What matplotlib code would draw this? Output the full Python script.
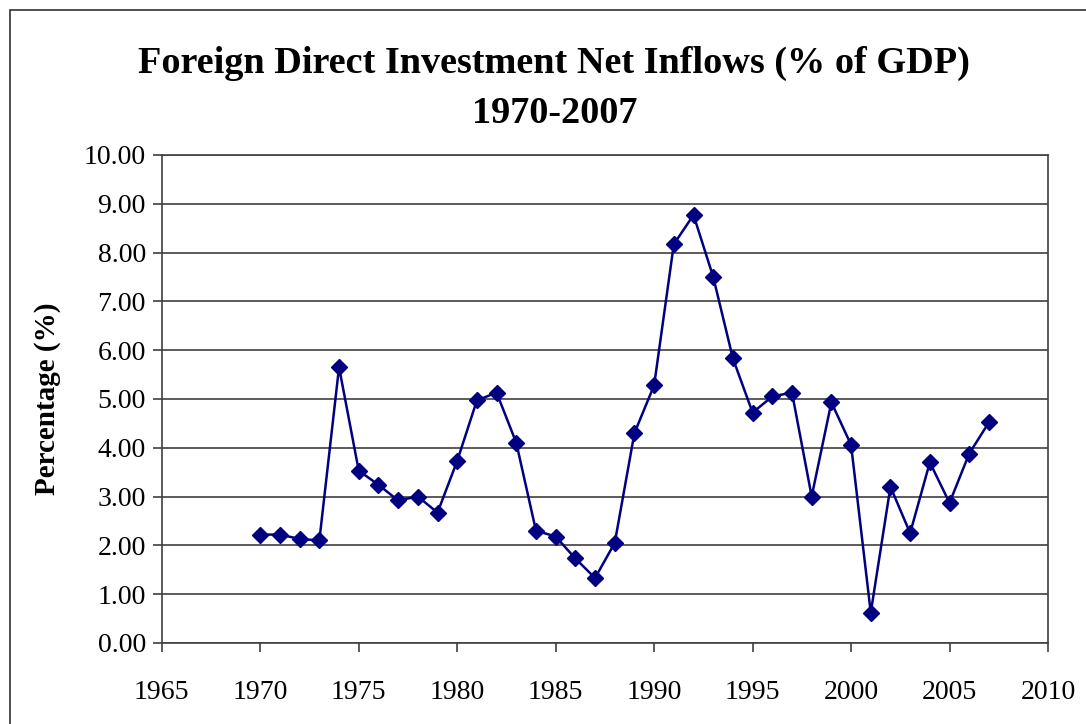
import matplotlib.pyplot as plt
from matplotlib.patches import Rectangle

years = list(range(1970, 2008))
fdi_pct = [2.22, 2.22, 2.13, 2.10, 5.65, 3.53, 3.24, 2.92, 3.00, 2.67,
           3.73, 4.97, 5.13, 4.10, 2.30, 2.18, 1.73, 1.33, 2.05, 4.30,
           5.28, 8.17, 8.77, 7.50, 5.83, 4.72, 5.05, 5.13, 3.00, 4.93,
           4.06, 0.62, 3.20, 2.25, 3.70, 2.87, 3.88, 4.52]
x_ticks = list(range(1965, 2011, 5))
y_ticks = [i * 1.0 for i in range(11)]

plt.rcParams['font.family'] = ['Liberation Serif', 'DejaVu Serif']

fig = plt.figure(figsize=(10.86, 7.24), dpi=100)
ax = fig.add_axes([0.149, 0.112, 0.816, 0.674])

# outer chart border
fig.patches.append(Rectangle((0.009, -0.05), 1.2, 1 - 0.014 + 0.05,
                             transform=fig.transFigure, fill=False,
                             edgecolor='#303030', lw=1.2))

ax.plot(years, fdi_pct, color='#000080', lw=1.8, marker='D',
        markersize=8.5, markerfacecolor='#000080', markeredgecolor='#000080',
        zorder=3)

ax.set_xlim(1965, 2010)
ax.set_ylim(0, 10)
ax.set_xticks(x_ticks)
ax.set_yticks(y_ticks)
ax.set_yticklabels(['{:.2f}'.format(v) for v in y_ticks])
ax.tick_params(axis='both', labelsize=20, direction='out', length=6.5,
               color='#404040', width=1.2)
ax.tick_params(axis='x', pad=20)
ax.tick_params(axis='y', pad=5)

ax.yaxis.grid(True, color='#404040', lw=1.2)
ax.set_axisbelow(True)
for s in ax.spines.values():
    s.set_color('#404040')
    s.set_linewidth(1.2)

ax.set_ylabel('Percentage (%)', fontsize=21, fontweight='bold', labelpad=16)

fig.text(0.510, 0.899, 'Foreign Direct Investment Net Inflows (% of GDP)',
         ha='center', va='baseline', fontsize=27.5, fontweight='bold')
fig.text(0.511, 0.830, '1970-2007', ha='center', va='baseline',
         fontsize=27.5, fontweight='bold')

fig.savefig('out.png', dpi=100)
